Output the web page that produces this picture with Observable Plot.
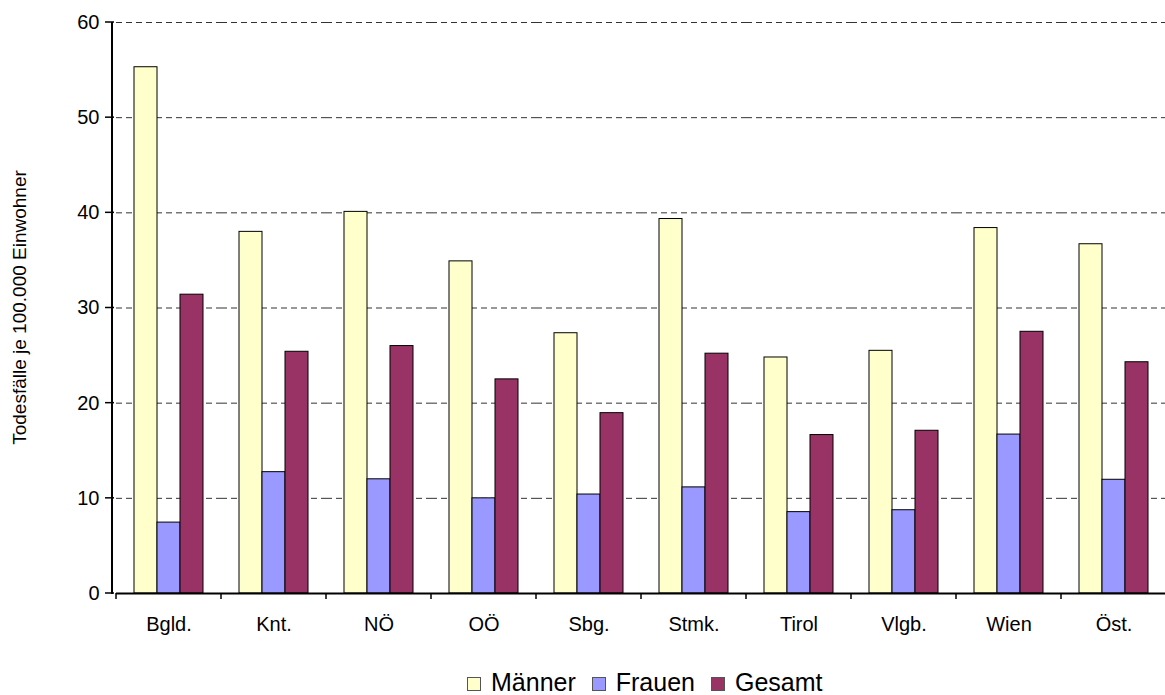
<!DOCTYPE html>
<html><head><meta charset="utf-8">
<script src="https://cdn.jsdelivr.net/npm/d3@7"></script>
<script src="https://cdn.jsdelivr.net/npm/@observablehq/plot@0.6"></script>
<style>
body{margin:0;background:#fff;font-family:"Liberation Sans",Arial,sans-serif}
#c{position:relative;width:1165px;height:695px;overflow:hidden}
#c svg text{font-size:20px;font-family:"Liberation Sans",Arial,sans-serif}
#c svg text.ytitle{font-size:19px}
#legend{position:absolute;left:467px;top:668px;display:flex;align-items:center;font-size:25px;line-height:28px;color:#000}
#legend .item{display:flex;align-items:center;margin-right:16px}
#legend .sw{width:12px;height:12px;border:1px solid #555;margin-right:10px;margin-top:3px}
</style>
</head><body><div id="c"></div>
<script>
const regions = ["Bgld.","Knt.","NÖ","OÖ","Sbg.","Stmk.","Tirol","Vlgb.","Wien","Öst."];
const series = ["Männer","Frauen","Gesamt"];
const maenner = [55.3, 38.0, 40.1, 34.9, 27.35, 39.35, 24.8, 25.5, 38.4, 36.7];
const frauen  = [7.45, 12.75, 12.0, 10.0, 10.4, 11.15, 8.55, 8.75, 16.7, 11.95];
const gesamt  = [31.4, 25.4, 26.0, 22.5, 18.95, 25.2, 16.65, 17.1, 27.5, 24.3];
const colors = ["#FFFFCC","#9999FF","#993366"];
const yTitle = "Todesfälle je 100.000 Einwohner";
const gridValues = [10,20,30,40,50,60];

const valuesBySeries = [maenner, frauen, gesamt];
const data = regions.flatMap((r,i)=>series.map((s,j)=>({region:r, series:s, value:valuesBySeries[j][i]})));

const chart = Plot.plot({
  width:1165, height:650,
  marginLeft:112, marginRight:-4, marginTop:22, marginBottom:57,
  style:{fontFamily:'"Liberation Sans",Arial,sans-serif', fontSize:"20px", color:"#000", background:"#fff"},
  fx:{domain:regions, padding:0, label:null, tickSize:0, tickPadding:23},
  x:{domain:series, paddingInner:0, paddingOuter:0.755, axis:null},
  y:{domain:[0,60], ticks:6, tickSize:0, tickPadding:17, label:null},
  color:{domain:series, range:colors},
  marks:[
    Plot.ruleY(gridValues, {stroke:"#333", strokeDasharray:"6,4", strokeWidth:1}),
    Plot.barY(data, {fx:"region", x:"series", y:"value", fill:"series", stroke:"#000", strokeWidth:1}),
    Plot.ruleY([0], {stroke:"#000", strokeWidth:2})
  ]
});
document.getElementById("c").appendChild(chart);

const fx = chart.scale("fx"), y = chart.scale("y");
const svg = d3.select(chart);
const y0 = y.apply(0), y60 = y.apply(60);
const left = fx.range[0], right = fx.range[1];
// y axis line
svg.append("line").attr("x1",left).attr("x2",left).attr("y1",y60).attr("y2",y0+1)
  .attr("stroke","#000").attr("stroke-width",2);
// y ticks crossing the axis
svg.append("g").selectAll("line").data([0,...gridValues]).join("line")
  .attr("x1",left-7).attr("x2",left+2).attr("y1",d=>y.apply(d)).attr("y2",d=>y.apply(d))
  .attr("stroke","#000").attr("stroke-width",1.5);
// category boundary ticks
const bounds = fx.domain.map(d=>fx.apply(d)).concat([right]);
svg.append("g").selectAll("line").data(bounds).join("line")
  .attr("x1",d=>d).attr("x2",d=>d).attr("y1",y0).attr("y2",y0+6)
  .attr("stroke","#000").attr("stroke-width",1.5);
// y title
svg.append("text").attr("class","ytitle").attr("transform",`translate(26,${(y0+y60)/2}) rotate(-90)`)
  .attr("text-anchor","middle").attr("fill","#000").text(yTitle);

// legend
const lg = document.createElement("div"); lg.id="legend";
series.forEach((s,i)=>{
  const it=document.createElement("div"); it.className="item";
  const sw=document.createElement("div"); sw.className="sw"; sw.style.background=colors[i];
  const t=document.createElement("span"); t.textContent=s;
  it.appendChild(sw); it.appendChild(t); lg.appendChild(it);
});
document.getElementById("c").appendChild(lg);
</script>
</body></html>
